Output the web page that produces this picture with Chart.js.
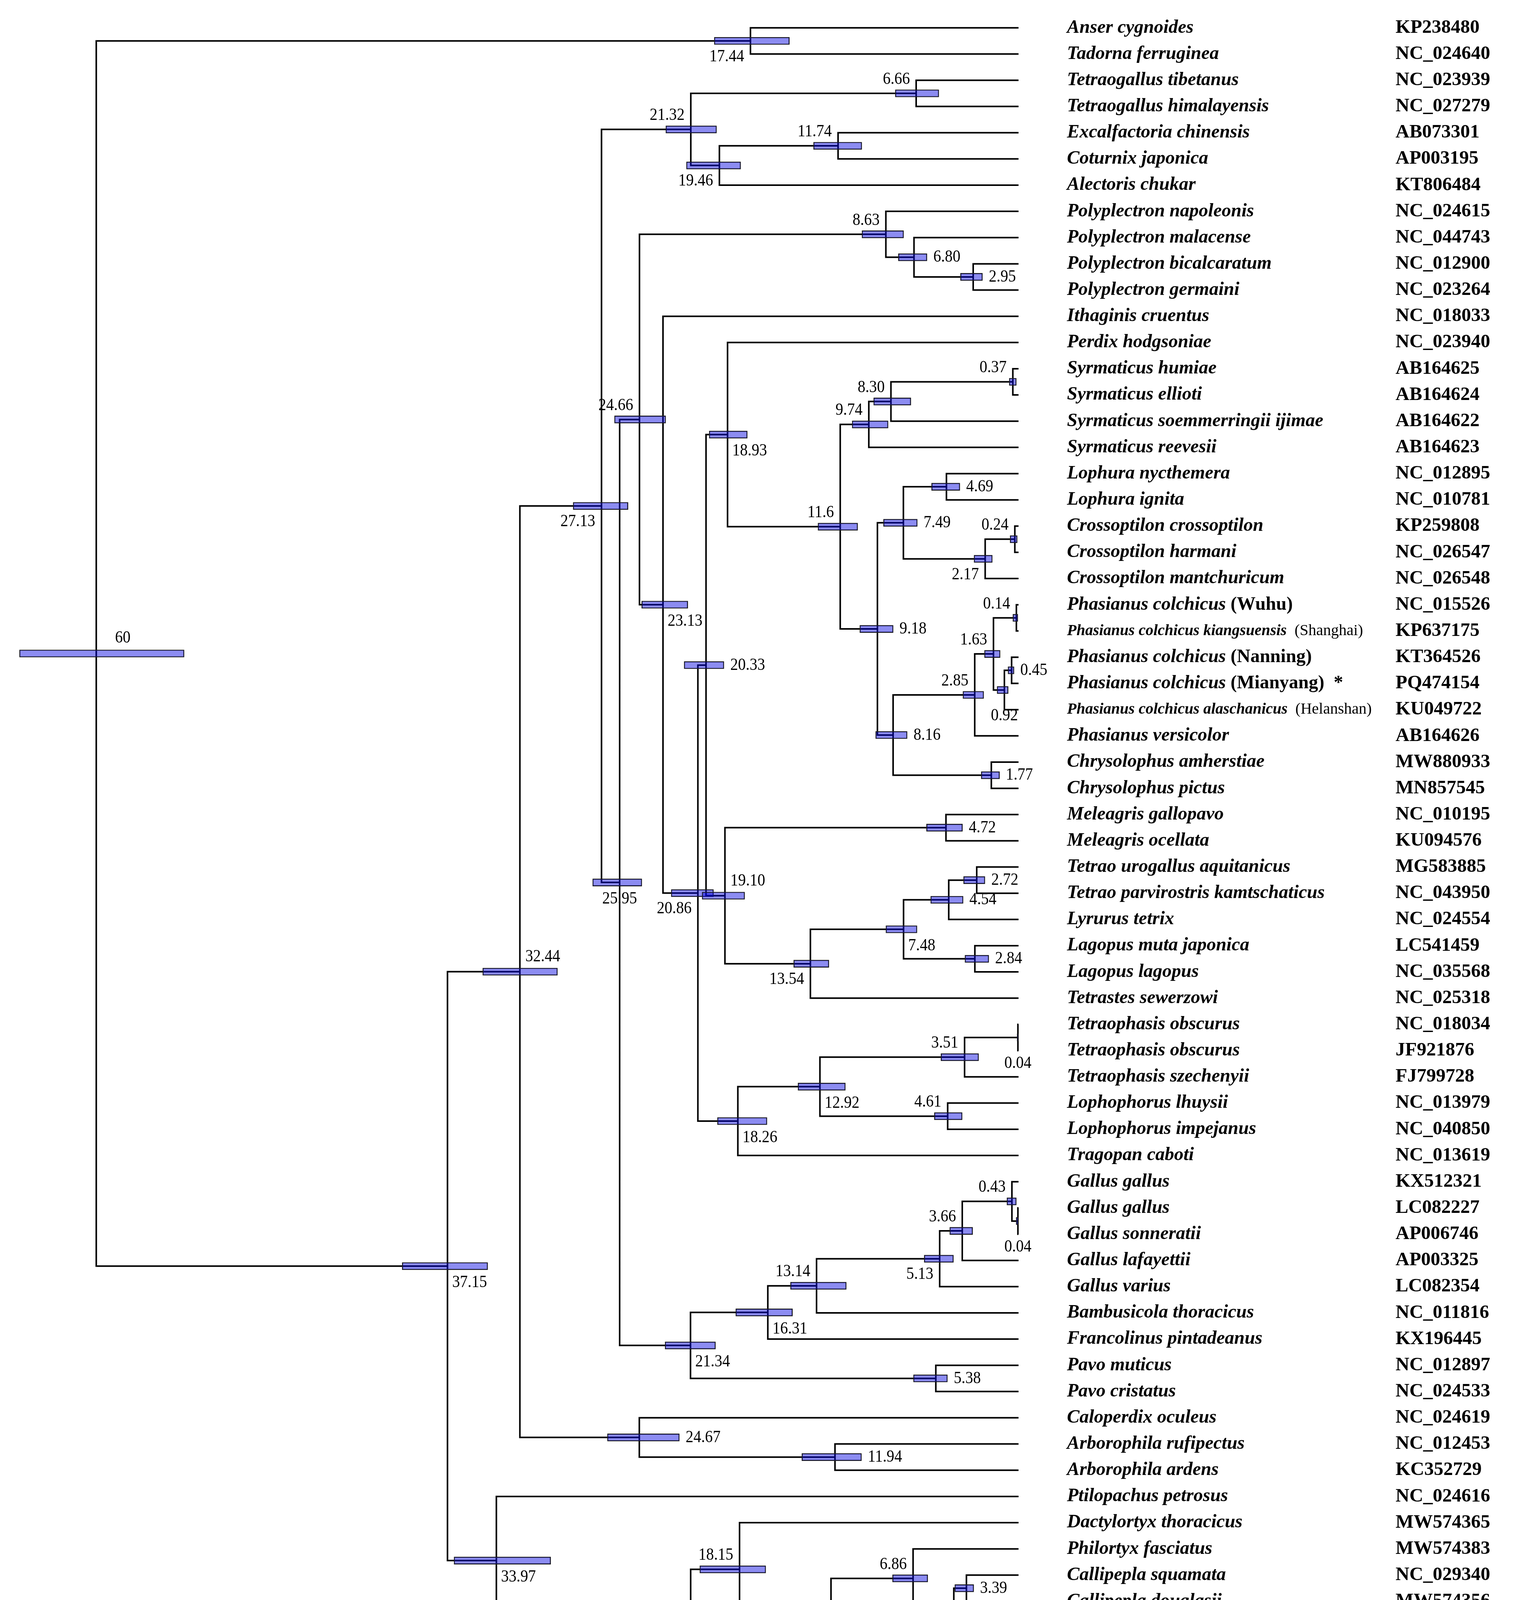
<!DOCTYPE html>
<html lang="en">
<head>
<meta charset="UTF-8">
<title>Galliformes divergence times</title>
<script src="https://cdn.jsdelivr.net/npm/chart.js"></script>
<style>
  html, body { margin: 0; padding: 0; background: #fff; overflow: hidden; }
  #tree { display: block; }
</style>
</head>
<body>
<canvas id="tree" width="3888" height="4556" style="width:3888px;height:4556px"></canvas>
<script>
// tips, top to bottom
const tipNames = [
  'Anser cygnoides', 'Tadorna ferruginea', 'Tetraogallus tibetanus', 'Tetraogallus himalayensis',
  'Excalfactoria chinensis', 'Coturnix japonica', 'Alectoris chukar', 'Polyplectron napoleonis',
  'Polyplectron malacense', 'Polyplectron bicalcaratum', 'Polyplectron germaini', 'Ithaginis cruentus',
  'Perdix hodgsoniae', 'Syrmaticus humiae', 'Syrmaticus ellioti', 'Syrmaticus soemmerringii ijimae',
  'Syrmaticus reevesii', 'Lophura nycthemera', 'Lophura ignita', 'Crossoptilon crossoptilon',
  'Crossoptilon harmani', 'Crossoptilon mantchuricum', 'Phasianus colchicus', 'Phasianus colchicus kiangsuensis',
  'Phasianus colchicus', 'Phasianus colchicus', 'Phasianus colchicus alaschanicus', 'Phasianus versicolor',
  'Chrysolophus amherstiae', 'Chrysolophus pictus', 'Meleagris gallopavo', 'Meleagris ocellata',
  'Tetrao urogallus aquitanicus', 'Tetrao parvirostris kamtschaticus', 'Lyrurus tetrix', 'Lagopus muta japonica',
  'Lagopus lagopus', 'Tetrastes sewerzowi', 'Tetraophasis obscurus', 'Tetraophasis obscurus',
  'Tetraophasis szechenyii', 'Lophophorus lhuysii', 'Lophophorus impejanus', 'Tragopan caboti',
  'Gallus gallus', 'Gallus gallus', 'Gallus sonneratii', 'Gallus lafayettii',
  'Gallus varius', 'Bambusicola thoracicus', 'Francolinus pintadeanus', 'Pavo muticus',
  'Pavo cristatus', 'Caloperdix oculeus', 'Arborophila rufipectus', 'Arborophila ardens',
  'Ptilopachus petrosus', 'Dactylortyx thoracicus', 'Philortyx fasciatus', 'Callipepla squamata',
  'Callipepla douglasii', 'Callipepla californica', 'Dendrortyx macroura', 'Rhynchortyx cinctus'
];
const tipNotes = [];
tipNotes[22] = '(Wuhu)';
tipNotes[23] = '(Shanghai)';
tipNotes[24] = '(Nanning)';
tipNotes[25] = '(Mianyang)  *';
tipNotes[26] = '(Helanshan)';
const accessions = [
  'KP238480', 'NC_024640', 'NC_023939', 'NC_027279', 'AB073301', 'AP003195', 'KT806484', 'NC_024615',
  'NC_044743', 'NC_012900', 'NC_023264', 'NC_018033', 'NC_023940', 'AB164625', 'AB164624', 'AB164622',
  'AB164623', 'NC_012895', 'NC_010781', 'KP259808', 'NC_026547', 'NC_026548', 'NC_015526', 'KP637175',
  'KT364526', 'PQ474154', 'KU049722', 'AB164626', 'MW880933', 'MN857545', 'NC_010195', 'KU094576',
  'MG583885', 'NC_043950', 'NC_024554', 'LC541459', 'NC_035568', 'NC_025318', 'NC_018034', 'JF921876',
  'FJ799728', 'NC_013979', 'NC_040850', 'NC_013619', 'KX512321', 'LC082227', 'AP006746', 'AP003325',
  'LC082354', 'NC_011816', 'KX196445', 'NC_012897', 'NC_024533', 'NC_024619', 'NC_012453', 'KC352729',
  'NC_024616', 'MW574365', 'MW574383', 'NC_029340', 'MW574356', 'MW574355', 'MW574368', 'KJ914547'
];

// internal nodes in preorder: age (Ma), 95% HPD, children ('t' = tip row, 'n' = node)
const nodeAges = [
  '60', '17.44', '37.15', '32.44', '27.13', '21.32', '6.66', '19.46', '11.74', '25.95',
  '24.66', '8.63', '6.80', '2.95', '23.13', '20.86', '20.33', '18.93', '11.6', '9.74',
  '8.30', '0.37', '9.18', '7.49', '4.69', '2.17', '0.24', '8.16', '2.85', '1.63',
  '0.14', '0.92', '0.45', '1.77', '19.10', '4.72', '13.54', '7.48', '4.54', '2.72',
  '2.84', '18.26', '12.92', '3.51', '0.04', '4.61', '21.34', '16.31', '13.14', '5.13',
  '3.66', '0.43', '0.04', '5.38', '24.67', '11.94', '33.97', '21.33', '18.15', '12.20',
  '6.86', '4.21', '3.39'
];
const hpdLow = [
  54.28, 14.90, 34.53, 29.99, 25.40, 19.64, 5.18, 18.07, 10.19, 24.50,
  22.95, 7.47, 5.95, 2.34, 21.51, 19.84, 19.16, 17.64, 10.46, 8.48,
  7.00, 0.14, 8.15, 6.58, 3.81, 1.70, 0.08, 7.24, 2.26, 1.19,
  0.04, 0.67, 0.29, 1.23, 17.81, 3.64, 12.33, 6.60, 3.60, 2.18,
  1.93, 16.36, 11.26, 2.59, 0.00, 3.66, 19.71, 14.70, 11.20, 4.23,
  2.98, 0.14, 0.00, 4.62, 22.06, 10.21, 30.43, 19.63, 16.44, 11.04,
  5.90, 3.51, 2.91
];
const hpdHigh = [
  65.00, 19.80, 40.10, 34.86, 28.98, 22.95, 8.02, 21.61, 13.34, 27.71,
  26.29, 10.19, 7.82, 3.78, 24.52, 22.60, 21.76, 20.13, 13.05, 10.83,
  9.43, 0.61, 10.33, 8.79, 5.66, 2.90, 0.55, 9.30, 3.62, 2.22,
  0.37, 1.40, 0.69, 2.43, 20.59, 5.99, 14.63, 8.63, 5.72, 3.58,
  3.49, 19.59, 14.35, 5.05, 0.10, 5.48, 23.00, 18.40, 14.84, 6.14,
  4.48, 0.76, 0.16, 6.84, 26.75, 14.10, 36.73, 24.26, 20.74, 14.10,
  8.20, 5.01, 4.15
];
const nodeKids = [
  ['n1', 'n2'], ['t0', 't1'], ['n3', 'n56'], ['n4', 'n54'], ['n5', 'n9'],
  ['n6', 'n7'], ['t2', 't3'], ['n8', 't6'], ['t4', 't5'], ['n10', 'n46'],
  ['n11', 'n14'], ['t7', 'n12'], ['t8', 'n13'], ['t9', 't10'], ['t11', 'n15'],
  ['n16', 'n41'], ['n17', 'n34'], ['t12', 'n18'], ['n19', 'n22'], ['n20', 't16'],
  ['n21', 't15'], ['t13', 't14'], ['n23', 'n27'], ['n24', 'n25'], ['t17', 't18'],
  ['n26', 't21'], ['t19', 't20'], ['n28', 'n33'], ['n29', 't27'], ['n30', 'n31'],
  ['t22', 't23'], ['n32', 't26'], ['t24', 't25'], ['t28', 't29'], ['n35', 'n36'],
  ['t30', 't31'], ['n37', 't37'], ['n38', 'n40'], ['n39', 't34'], ['t32', 't33'],
  ['t35', 't36'], ['n42', 't43'], ['n43', 'n45'], ['n44', 't40'], ['t38', 't39'],
  ['t41', 't42'], ['n47', 'n53'], ['n48', 't50'], ['n49', 't49'], ['n50', 't48'],
  ['n51', 't47'], ['t44', 'n52'], ['t45', 't46'], ['t51', 't52'], ['t53', 'n55'],
  ['t54', 't55'], ['t56', 'n57'], ['n58', 't63'], ['t57', 'n59'], ['n60', 't62'],
  ['t58', 'n61'], ['n62', 't61'], ['t59', 't60']
];

const majorTicks = [0, 10, 20, 30, 40, 50, 60];
const minorTicks = [5, 15, 25, 35, 45, 55];

// where each age label sits relative to its node
const labelSide = [
  'aR', 'bl', 'br', 'ar', 'bl', 'al', 'al', 'bl', 'al', 'bc',
  'al', 'al', 'r', 'r', 'br', 'bl', 'r', 'br', 'al', 'al',
  'al', 'al', 'r', 'r', 'r', 'bl', 'al', 'r', 'al', 'al',
  'al', 'bd', 'r', 'r', 'ar', 'r', 'bl', 'br', 'r', 'r',
  'r', 'br', 'br', 'al', 'bd', 'al', 'br', 'br', 'al', 'bl',
  'al', 'al', 'bd', 'r', 'r', 'r', 'br', 'bl', 'al', 'bl',
  'al', 'bl', 'r'
];
const smallRows = [23, 26];

const nodeRow = [];
function rowOf(ref) {
  const k = +ref.slice(1);
  if (ref[0] === 't') return k;
  if (nodeRow[k] === undefined) {
    const [a, b] = nodeKids[k];
    nodeRow[k] = (rowOf(a) + rowOf(b)) / 2;
  }
  return nodeRow[k];
}
function ageOf(ref) {
  return ref[0] === 't' ? 0 : parseFloat(nodeAges[+ref.slice(1)]);
}

// one elbow per internal node: child1 -> node -> child2
const branchPts = [];
nodeKids.forEach((kids, i) => {
  const a = parseFloat(nodeAges[i]);
  const [k1, k2] = kids;
  branchPts.push(
    { x: ageOf(k1), y: rowOf(k1) }, { x: a, y: rowOf(k1) },
    { x: a, y: rowOf(k2) }, { x: ageOf(k2), y: rowOf(k2) },
    { x: null, y: null }
  );
});
const hpdBars = nodeAges.map((a, i) => ({ y: rowOf('n' + i), x: [hpdLow[i], hpdHigh[i]] }));

function placeLabel(code, px, py, loPx) {
  switch (code) {
    case 'al': return [px - 16, py - 36, 'right'];
    case 'bl': return [px - 16, py + 40, 'right'];
    case 'ar': return [px + 14, py - 38, 'left'];
    case 'aR': return [px + 48, py - 40, 'left'];
    case 'br': return [px + 12, py + 42, 'left'];
    case 'bc': return [px, py + 42, 'center'];
    case 'bd': return [px, py + 66, 'center'];
    default: return [loPx + 16, py, 'left'];
  }
}

const treeText = {
  id: 'treeText',
  afterDraw(chart) {
    const { ctx, scales: { x, y } } = chart;
    const axisY = chart.chartArea.bottom;
    ctx.save();
    ctx.strokeStyle = '#000';
    ctx.lineWidth = 4;
    minorTicks.forEach(v => {
      const px = x.getPixelForValue(v);
      ctx.beginPath();
      ctx.moveTo(px, axisY);
      ctx.lineTo(px, axisY + 13);
      ctx.stroke();
    });

    ctx.fillStyle = '#000';
    ctx.textBaseline = 'middle';
    ctx.font = '45px "Liberation Serif"';
    nodeAges.forEach((a, i) => {
      const px = x.getPixelForValue(parseFloat(a));
      const py = y.getPixelForValue(nodeRow[i]);
      const [tx, ty, align] = placeLabel(labelSide[i], px, py, x.getPixelForValue(hpdLow[i]));
      ctx.save();
      ctx.translate(tx, ty);
      ctx.scale(0.88, 1);
      ctx.textAlign = align;
      ctx.fillText(a, 0, 0);
      ctx.restore();
    });

    const x0 = x.getPixelForValue(0);
    const tipX = x0 + 124, codeX = x0 + 965;
    ctx.textAlign = 'left';
    tipNames.forEach((name, i) => {
      const py = y.getPixelForValue(i);
      const small = smallRows.includes(i);
      const size = small ? 40 : 48;
      ctx.font = `italic bold ${size}px "Liberation Serif"`;
      ctx.fillText(name, tipX, py);
      if (tipNotes[i]) {
        const w = ctx.measureText(name + (small ? '  ' : ' ')).width;
        ctx.font = `${small ? '' : 'bold '}${size}px "Liberation Serif"`;
        ctx.fillText(tipNotes[i], tipX + w, py);
      }
      ctx.font = 'bold 49px "Liberation Serif"';
      ctx.fillText(accessions[i], codeX, py);
    });
    ctx.restore();
  }
};

new Chart(document.getElementById('tree'), {
  type: 'scatter',
  data: {
    datasets: [
      {
        type: 'bar',
        indexAxis: 'y',
        data: hpdBars,
        backgroundColor: 'rgba(0, 0, 225, 0.45)',
        borderColor: '#1e1e1e',
        borderWidth: 2,
        borderSkipped: false,
        barThickness: 19,
        clip: false
      },
      {
        data: branchPts,
        showLine: true,
        spanGaps: false,
        borderColor: '#000',
        borderWidth: 4,
        borderJoinStyle: 'miter',
        pointRadius: 0,
        clip: false
      }
    ]
  },
  options: {
    responsive: false,
    devicePixelRatio: 1,
    animation: false,
    events: [],
    layout: { padding: { left: 89, right: 1281, top: 4, bottom: 0 } },
    plugins: { legend: { display: false }, tooltip: { enabled: false } },
    scales: {
      x: {
        type: 'linear',
        reverse: true,
        offset: false,
        min: 0,
        max: 64,
        afterBuildTicks: scale => { scale.ticks = majorTicks.map(v => ({ value: v })); },
        afterFit: scale => { scale.height = 139; },
        ticks: {
          color: '#000',
          font: { family: "'Liberation Serif', serif", size: 58 },
          padding: 14,
          maxRotation: 0,
          autoSkip: false
        },
        grid: {
          offset: false,
          drawOnChartArea: false,
          drawTicks: true,
          tickLength: 27,
          tickWidth: 4,
          tickColor: '#000',
          color: '#000'
        },
        border: { display: true, color: '#000', width: 4 }
      },
      y: {
        type: 'linear',
        display: false,
        reverse: true,
        offset: false,
        grid: { offset: false },
        min: -1,
        max: 64.73
      }
    }
  },
  plugins: [treeText]
});
</script>
</body>
</html>
